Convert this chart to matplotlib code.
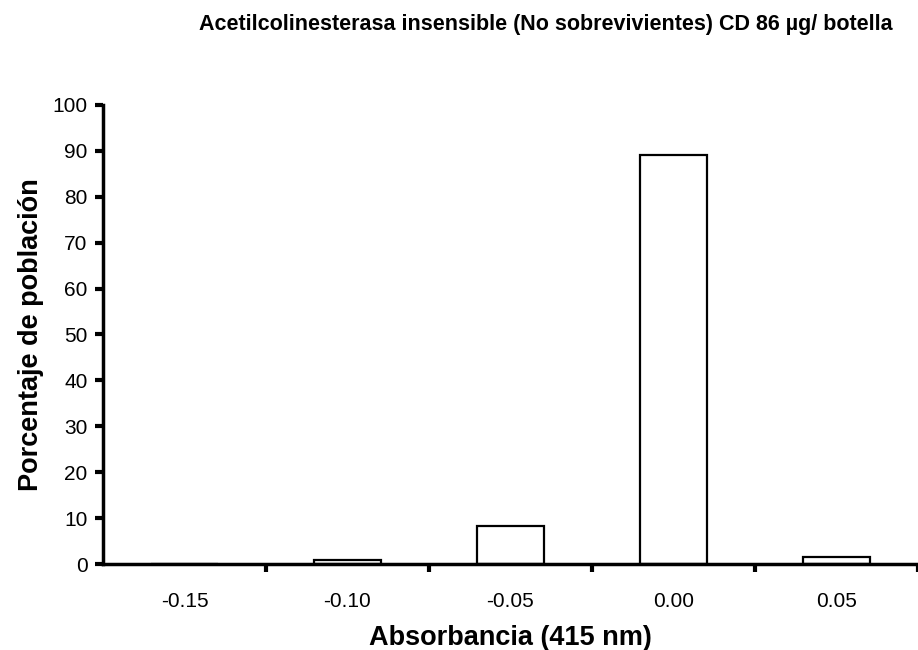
import matplotlib
matplotlib.use("Agg")
import matplotlib.pyplot as plt
import numpy as np

categories = ["-0.15", "-0.10", "-0.05", "0.00", "0.05"]
values = [0.0, 0.8, 8.2, 89.0, 1.6]
y_ticks = [0, 10, 20, 30, 40, 50, 60, 70, 80, 90, 100]

title = "Acetilcolinesterasa insensible (No sobrevivientes) CD 86 µg/ botella"
xlabel = "Absorbancia (415 nm)"
ylabel = "Porcentaje de población"

plt.rcParams['font.family'] = ['Liberation Sans', 'DejaVu Sans']

fig = plt.figure(figsize=(9.18, 6.5), dpi=100)
ax = fig.add_axes([0.1122, 0.1323, 0.8878, 0.7062])

x = np.arange(len(categories))
ax.bar(x, values, width=0.41, color="white", edgecolor="black", linewidth=1.6, zorder=2)

ax.set_xlim(-0.5, 4.47)
ax.set_ylim(0, 100)
ax.set_yticks(y_ticks)
ax.set_yticklabels([str(v) for v in y_ticks], fontsize=15)

ax.set_xticks(x + 0.5)
ax.set_xticklabels([])
ax.set_xticks(x, minor=True)
ax.set_xticklabels(categories, minor=True, fontsize=15)
ax.tick_params(axis='x', which='minor', length=0, pad=20)
ax.tick_params(axis='x', which='major', length=6, width=3, direction='out')
ax.tick_params(axis='y', length=6, width=3, direction='out', pad=5)

for s in ['top', 'right']:
    ax.spines[s].set_visible(False)
for s in ['left', 'bottom']:
    ax.spines[s].set_linewidth(2.5)
ax.spines['bottom'].set_zorder(3)

ax.set_xlabel(xlabel, fontsize=19.5, fontweight='bold', labelpad=10)
ax.set_ylabel(ylabel, fontsize=19.5, fontweight='bold', labelpad=6)
fig.text(0.595, 0.963, title, fontsize=15.5, fontweight='bold', ha='center', va='center')

fig.savefig("out.png", dpi=100)
